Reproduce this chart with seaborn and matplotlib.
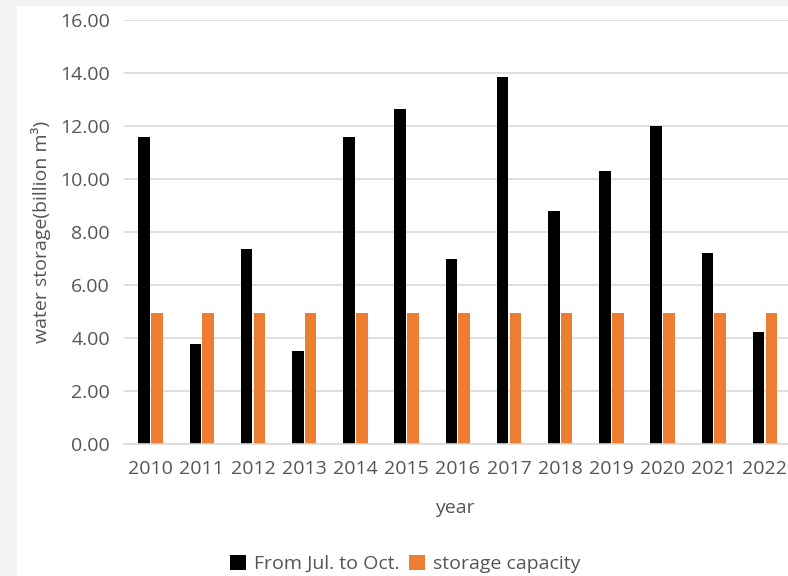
import matplotlib
matplotlib.use("Agg")
import matplotlib.pyplot as plt
from matplotlib.patches import Rectangle
import seaborn as sns
import pandas as pd

years = ["2010", "2011", "2012", "2013", "2014", "2015", "2016",
         "2017", "2018", "2019", "2020", "2021", "2022"]
jul_oct = [11.60, 3.75, 7.34, 3.49, 11.60, 12.63, 6.97,
           13.84, 8.80, 10.30, 12.01, 7.19, 4.22]
capacity = [4.95] * 13
series_names = ["From Jul. to Oct.", "storage capacity"]
colors = ["#000000", "#ED7D31"]

df = pd.DataFrame({
    "year": years * 2,
    "value": jul_oct + capacity,
    "series": [series_names[0]] * len(years) + [series_names[1]] * len(years),
})

sns.set_theme(style="white")
plt.rcParams["font.family"] = ["Open Sans", "DejaVu Sans"]
txt = "#555555"
fs = 14

W, H = 788, 576
fig = plt.figure(figsize=(W / 100, H / 100), dpi=100)
fig.patch.set_facecolor("#F2F3F5")
fig.add_artist(Rectangle((17 / W, 0), 1 - 17 / W, 1 - 6 / H,
                         transform=fig.transFigure, facecolor="white",
                         edgecolor="none", zorder=-10))

ax = fig.add_axes([124 / W, 1 - 443.7 / H, (W - 124) / W, (443.7 - 20) / H])
ax.set_facecolor("none")

sns.barplot(data=df, x="year", y="value", hue="series", palette=colors,
            width=0.5, gap=0.1, ax=ax, saturation=1, legend=True,
            edgecolor="none", linewidth=0)

ax.set_ylim(0, 16)
ax.set_yticks(range(0, 17, 2))
ax.set_yticklabels([f"{v:.2f}" for v in range(0, 17, 2)])
ax.set_xlim(-0.52, 12.45)
ax.grid(axis="y", color="#D9D9D9", linewidth=1.2)
ax.set_axisbelow(True)
for s in ["top", "right", "left"]:
    ax.spines[s].set_visible(False)
ax.spines["bottom"].set_color("#D9D9D9")
ax.spines["bottom"].set_linewidth(1.2)
ax.tick_params(axis="both", length=0, labelsize=fs, labelcolor=txt)
ax.tick_params(axis="y", pad=10)
ax.tick_params(axis="x", pad=12)

ax.set_xlabel("")
ax.set_ylabel("")
fig.text(455 / W, 1 - 508 / H, "year", ha="center", va="center",
         fontsize=fs, color=txt)
fig.text(41 / W, 1 - 232 / H, "water storage(billion m³)", ha="center",
         va="center", rotation=90, fontsize=fs, color=txt)

handles, labels = ax.get_legend_handles_labels()
ax.get_legend().remove()
fig.legend(handles, labels, loc="center", bbox_to_anchor=(405 / W, 1 - 564 / H),
           ncol=2, frameon=False, fontsize=fs, labelcolor=txt,
           handlelength=0.85, handleheight=0.85, handletextpad=0.4,
           columnspacing=0.45, borderaxespad=0)

fig.savefig("out.png", dpi=100)
